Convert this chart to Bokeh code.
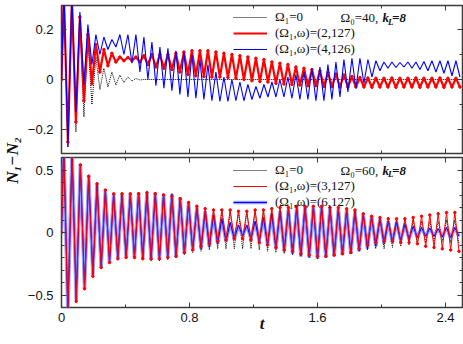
import math
from bokeh.plotting import figure
from bokeh.models import (Range1d, LinearAxis, FixedTicker, Legend, LegendItem, Label,
                          CustomJSTickFormatter)
from bokeh.layouts import row, column
from bokeh.embed import file_html
from bokeh.resources import INLINE

# ---------------- data (extremes) ----------------
# top panel: Omega0 = 40
t_top = [0.0, 0.015, 0.04, 0.065, 0.09, 0.115, 0.14, 0.165, 0.19, 0.215, 0.24,
         0.265, 0.29, 0.315, 0.34, 0.365, 0.39, 0.415, 0.44, 0.465, 0.49,
         0.515, 0.54, 0.565, 0.59, 0.615, 0.64, 0.665, 0.69, 0.715, 0.74,
         0.765, 0.79, 0.815, 0.84, 0.865, 0.89, 0.915, 0.94, 0.965, 0.99,
         1.015, 1.04, 1.065, 1.09, 1.115, 1.14, 1.165, 1.19, 1.215, 1.24,
         1.265, 1.29, 1.315, 1.34, 1.365, 1.39, 1.415, 1.44, 1.465, 1.49,
         1.515, 1.54, 1.565, 1.59, 1.615, 1.64, 1.665, 1.69, 1.715, 1.74,
         1.765, 1.79, 1.815, 1.84, 1.865, 1.89, 1.915, 1.94, 1.965, 1.99,
         2.015, 2.04, 2.065, 2.09, 2.115, 2.14, 2.165, 2.19, 2.215, 2.24,
         2.265, 2.29, 2.315, 2.34, 2.365, 2.39, 2.415, 2.44, 2.465, 2.49]

t_black_top = [0.0, 0.015, 0.04, 0.065, 0.09, 0.115, 0.14, 0.165, 0.19, 0.215, 0.24,
               0.265, 0.29, 0.315, 0.34, 0.365, 0.39, 0.415, 0.44, 0.465, 0.49,
               0.515, 2.5]
n_black_top = [0.0, 0.36, -0.27, 0.34, -0.21, 0.26, -0.15, 0.17, -0.10, 0.09, -0.04,
               0.045, -0.03, 0.03, -0.022, 0.018, -0.012, 0.01, -0.006, 0.004, -0.002,
               0.0, 0.0]

n_red_top = [0.0, 0.34, -0.25, 0.32, -0.17, 0.25, -0.085, 0.18, -0.017, 0.14, 0.03,
             0.12, 0.055, 0.105, 0.07, 0.09, 0.075, 0.088, 0.075, 0.09, 0.07,
             0.095, 0.06, 0.1, 0.05, 0.1, 0.045, 0.1, 0.04, 0.105, 0.03,
             0.11, 0.02, 0.115, 0.015, 0.115, 0.012, 0.115, 0.01, 0.11, 0.01,
             0.105, 0.008, 0.1, 0.005, 0.095, 0.0, 0.09, -0.005, 0.085, -0.008,
             0.08, -0.01, 0.07, -0.015, 0.065, -0.018, 0.06, -0.02, 0.05, -0.022,
             0.045, -0.025, 0.04, -0.025, 0.035, -0.028, 0.028, -0.028, 0.022, -0.03,
             0.018, -0.03, 0.012, -0.03, 0.008, -0.03, 0.006, -0.031, 0.005, -0.03,
             0.005, -0.03, 0.006, -0.031, 0.005, -0.03, 0.005, -0.03, 0.006, -0.031,
             0.005, -0.03, 0.005, -0.03, 0.006, -0.031, 0.005, -0.03, 0.005, -0.03]

n_blue_top = [0.0, 0.36, -0.27, 0.34, -0.13, 0.27, -0.02, 0.22, 0.06, 0.18, 0.10,
              0.17, 0.12, 0.16, 0.13, 0.18, 0.10, 0.18, 0.065, 0.18, 0.03,
              0.17, 0.0, 0.15, -0.025, 0.13, -0.035, 0.125, -0.045, 0.115, -0.06,
              0.11, -0.07, 0.10, -0.075, 0.08, -0.08, 0.06, -0.085, 0.03, -0.088,
              0.01, -0.088, 0.0, -0.085, -0.01, -0.085, -0.02, -0.08, -0.028, -0.075,
              -0.02, -0.07, -0.01, -0.07, 0.0, -0.07, 0.01, -0.075, 0.02, -0.08,
              0.03, -0.08, 0.045, -0.085, 0.05, -0.085, 0.06, -0.08, 0.07, -0.07,
              0.08, -0.05, 0.085, -0.035, 0.085, -0.015, 0.08, 0.01, 0.075, 0.035,
              0.07, 0.045, 0.07, 0.048, 0.068, 0.05, 0.07, 0.045, 0.07, 0.04,
              0.072, 0.035, 0.075, 0.03, 0.075, 0.025, 0.075, 0.015, 0.075, 0.01]

# bottom panel: Omega0 = 60
t_bot = [0.0, 0.014, 0.04, 0.066, 0.092, 0.118, 0.144, 0.17, 0.196, 0.222, 0.248,
         0.274, 0.3, 0.326, 0.352, 0.378, 0.404, 0.43, 0.456, 0.482, 0.508,
         0.534, 0.56, 0.586, 0.612, 0.638, 0.664, 0.69, 0.716, 0.742, 0.768,
         0.794, 0.82, 0.846, 0.872, 0.898, 0.924, 0.95, 0.976, 1.002, 1.028,
         1.054, 1.08, 1.106, 1.132, 1.158, 1.184, 1.21, 1.236, 1.262, 1.288,
         1.314, 1.34, 1.366, 1.392, 1.418, 1.444, 1.47, 1.496, 1.522, 1.548,
         1.574, 1.6, 1.626, 1.652, 1.678, 1.704, 1.73, 1.756, 1.782, 1.808,
         1.834, 1.86, 1.886, 1.912, 1.938, 1.964, 1.99, 2.016, 2.042, 2.068,
         2.094, 2.12, 2.146, 2.172, 2.198, 2.224, 2.25, 2.276, 2.302, 2.328,
         2.354, 2.38, 2.406, 2.432, 2.458, 2.484]

n_black_bot = [0.0, 0.7, -0.66, 0.65, -0.56, 0.55, -0.46, 0.46, -0.36, 0.39, -0.29,
               0.34, -0.25, 0.31, -0.22, 0.31, -0.21, 0.31, -0.21, 0.32, -0.22,
               0.32, -0.23, 0.32, -0.23, 0.31, -0.22, 0.3, -0.2, 0.28, -0.18,
               0.25, -0.16, 0.22, -0.15, 0.2, -0.14, 0.19, -0.13, 0.18, -0.13,
               0.17, -0.13, 0.17, -0.13, 0.17, -0.13, 0.18, -0.14, 0.19, -0.15,
               0.2, -0.16, 0.2, -0.17, 0.21, -0.18, 0.21, -0.18, 0.21, -0.19,
               0.21, -0.19, 0.2, -0.19, 0.2, -0.18, 0.19, -0.17, 0.18, -0.16,
               0.16, -0.15, 0.14, -0.14, 0.13, -0.13, 0.12, -0.13, 0.12, -0.12,
               0.11, -0.11, 0.1, -0.1, 0.1, -0.09, 0.09, -0.08, 0.09, -0.07,
               0.09, -0.07, 0.1, -0.08, 0.1, -0.09]

n_red_bot = [0.0, 0.68, -0.63, 0.64, -0.55, 0.54, -0.45, 0.45, -0.35, 0.39, -0.28,
             0.34, -0.24, 0.31, -0.21, 0.31, -0.2, 0.31, -0.2, 0.31, -0.21,
             0.32, -0.21, 0.31, -0.21, 0.3, -0.2, 0.29, -0.19, 0.27, -0.16,
             0.24, -0.14, 0.21, -0.11, 0.19, -0.09, 0.18, -0.07, 0.18, -0.06,
             0.18, -0.05, 0.17, -0.05, 0.17, -0.06, 0.18, -0.08, 0.18, -0.1,
             0.19, -0.12, 0.2, -0.14, 0.2, -0.15, 0.21, -0.17, 0.21, -0.18,
             0.21, -0.19, 0.21, -0.19, 0.2, -0.18, 0.2, -0.17, 0.19, -0.16,
             0.18, -0.13, 0.15, -0.1, 0.13, -0.08, 0.12, -0.07, 0.11, -0.07,
             0.11, -0.08, 0.11, -0.08, 0.12, -0.09, 0.13, -0.11, 0.14, -0.12,
             0.15, -0.13, 0.16, -0.14, 0.16, -0.15]

n_blue_bot = [0.0, 0.7, -0.65, 0.65, -0.54, 0.55, -0.45, 0.46, -0.34, 0.39, -0.28,
              0.34, -0.24, 0.31, -0.21, 0.31, -0.2, 0.31, -0.2, 0.32, -0.21,
              0.32, -0.22, 0.32, -0.22, 0.31, -0.2, 0.31, -0.2, 0.28, -0.17,
              0.24, -0.145, 0.2, -0.13, 0.17, -0.115, 0.14, -0.09, 0.11, -0.07,
              0.08, -0.05, 0.06, -0.03, 0.06, -0.05, 0.09, -0.07, 0.12, -0.1,
              0.15, -0.13, 0.17, -0.15, 0.19, -0.17, 0.2, -0.19, 0.21, -0.2,
              0.21, -0.21, 0.21, -0.2, 0.2, -0.19, 0.19, -0.18, 0.18, -0.17,
              0.17, -0.15, 0.15, -0.13, 0.13, -0.11, 0.11, -0.09, 0.09, -0.08,
              0.08, -0.065, 0.065, -0.05, 0.05, -0.04, 0.04, -0.03, 0.035, -0.03,
              0.03, -0.035, 0.04, -0.04, 0.04, -0.03]

x_ticks = [0, 0.8, 1.6, 2.4]
x_minor = [0.4, 1.2, 2.0]
x_tick_labels = {0: "0", 0.8: "0.8", 1.6: "1.6", 2.4: "2.4"}
top_ticks = [-0.2, 0, 0.2]
top_minor = [-0.3, -0.1, 0.1, 0.3]
top_tick_labels = {-0.2: "\u22120.2", 0: "0", 0.2: "0.2"}
bot_ticks = [-0.5, 0, 0.5]
bot_minor = [-0.6, -0.4, -0.3, -0.2, -0.1, 0.1, 0.2, 0.3, 0.4, 0.6]
bot_tick_labels = {-0.5: "\u22120.5", 0: "0", 0.5: "0.5"}

top_labels = ["\u03a9\u2081=0", "(\u03a9\u2081,\u03c9)=(2,127)", "(\u03a9\u2081,\u03c9)=(4,126)"]
bot_labels = ["\u03a9\u2081=0", "(\u03a9\u2081,\u03c9)=(3,127)", "(\u03a9\u2081,\u03c9)=(6,127)"]

# ---------------- styling ----------------
SERIF = "Liberation Serif"
SANS = "Liberation Sans"
FRAME = "#3a3a3a"
RED = "#ff0000"
BLUE = "#0000ff"
LBLUE = "#8a8aff"

x_range = Range1d(0, 2.506)


def style_axis(ax, labels, standoff):
    ax.axis_line_color = None
    ax.major_tick_in = 5
    ax.major_tick_out = 0
    ax.minor_tick_in = 3
    ax.minor_tick_out = 0
    ax.major_tick_line_color = FRAME
    ax.minor_tick_line_color = FRAME
    if labels is None:
        ax.formatter = CustomJSTickFormatter(code="return ''")
        ax.major_label_text_font_size = "1px"
        ax.major_label_standoff = 0
    else:
        ax.major_label_overrides = labels
        ax.major_label_text_font = SANS
        ax.major_label_text_font_size = "13px"
        ax.major_label_text_color = "#111111"
        ax.major_label_standoff = standoff


def make_panel(height, ylo, yhi, top, bottom, yticks, yminor, ylabels, xlabels):
    p = figure(width=441, height=height, x_range=x_range, y_range=Range1d(ylo, yhi),
               output_backend="svg", toolbar_location=None,
               x_axis_location=None, y_axis_location=None,
               min_border_left=39, min_border_right=1,
               min_border_top=top, min_border_bottom=bottom)
    p.grid.visible = False
    p.outline_line_color = FRAME
    p.outline_line_width = 1.5
    p.background_fill_color = "white"
    p.border_fill_color = "white"
    for loc in ("left", "right"):
        ax = LinearAxis(ticker=FixedTicker(ticks=yticks, minor_ticks=yminor))
        style_axis(ax, ylabels if loc == "left" else None, 8)
        p.add_layout(ax, loc)
    for loc in ("below", "above"):
        ax = LinearAxis(ticker=FixedTicker(ticks=x_ticks, minor_ticks=x_minor))
        style_axis(ax, xlabels if loc == "below" else None, 5)
        if loc == "below" and xlabels is not None:
            ax.axis_label = "t"
            ax.axis_label_text_font = SERIF
            ax.axis_label_text_font_size = "17px"
            ax.axis_label_text_font_style = "bold italic"
            ax.axis_label_text_color = "#111111"
            ax.axis_label_standoff = -11
        p.add_layout(ax, loc)
    return p


def legend(items, loc):
    lg = Legend(items=items, location=loc, orientation="vertical",
                border_line_color=None, background_fill_alpha=0,
                padding=0, margin=0, spacing=0, label_height=16, glyph_height=16,
                glyph_width=34, label_standoff=8,
                label_text_font=SERIF, label_text_font_size="13px",
                label_text_color="#111111")
    return lg


def param_text(p, t0, yv, ysub, omega_txt):
    p.add_layout(Label(x=t0, y=yv, text=omega_txt, text_font=SERIF, text_font_size="13px",
                       text_baseline="middle", text_color="#111111"))
    p.add_layout(Label(x=t0 + 0.262, y=yv, text="k", text_font=SERIF, text_font_size="13px",
                       text_font_style="bold italic", text_baseline="middle", text_color="#111111"))
    p.add_layout(Label(x=t0 + 0.297, y=ysub, text="L", text_font=SERIF, text_font_size="9px",
                       text_font_style="bold italic", text_baseline="middle", text_color="#111111"))
    p.add_layout(Label(x=t0 + 0.322, y=yv, text="=8", text_font=SERIF, text_font_size="13px",
                       text_font_style="bold italic", text_baseline="middle", text_color="#111111"))


# ---------------- top panel ----------------
p1 = make_panel(155, -0.296, 0.296, 5, 2, top_ticks, top_minor, top_tick_labels, None)
b1 = p1.line(t_black_top, n_black_top, color="black", line_width=1, line_dash="1 1")
r1 = p1.line(t_top, n_red_top, color=RED, line_width=2.2)
r1m = p1.scatter(t_top, n_red_top, color=RED, size=2.5, marker="circle")
u1 = p1.line(t_top, n_blue_top, color=BLUE, line_width=1.1)
p1.add_layout(legend([LegendItem(label=top_labels[0], renderers=[b1]),
                      LegendItem(label=top_labels[1], renderers=[r1]),
                      LegendItem(label=top_labels[2], renderers=[u1])], (172, 96)))
param_text(p1, 1.744, 0.248, 0.232, "\u03a9\u2080=40,")

# ---------------- bottom panel ----------------
p2 = make_panel(188, -0.6, 0.6, 2, 36, bot_ticks, bot_minor, bot_tick_labels, x_tick_labels)
b2 = p2.line(t_bot, n_black_bot, color="black", line_width=1, line_dash="1 1")
h2 = p2.line(t_bot, n_blue_bot, color=LBLUE, line_width=3.5, alpha=0.85)
u2 = p2.line(t_bot, n_blue_bot, color=BLUE, line_width=1)
r2 = p2.line(t_bot, n_red_bot, color=RED, line_width=1)
r2m = p2.scatter(t_bot, n_red_bot, color=RED, size=2.5, marker="circle")
p2.add_layout(legend([LegendItem(label=bot_labels[0], renderers=[b2]),
                      LegendItem(label=bot_labels[1], renderers=[r2]),
                      LegendItem(label=bot_labels[2], renderers=[h2, u2])], (172, 97)))
param_text(p2, 1.744, 0.496, 0.468, "\u03a9\u2080=60,")

# ---------------- y label ----------------
ylab = figure(width=22, height=343, x_range=Range1d(0, 22), y_range=Range1d(0, 343),
              output_backend="svg", toolbar_location=None, min_border=0,
              x_axis_location=None, y_axis_location=None)
ylab.grid.visible = False
ylab.outline_line_color = None
ylab.add_layout(Label(x=12, y=183, text="N\u2081\u2212N\u2082", angle=math.pi / 2,
                      text_font=SERIF, text_font_size="17px", text_font_style="bold italic",
                      text_align="center", text_baseline="middle", text_color="#111111"))

layout = row(ylab, column(p1, p2, spacing=0), spacing=0)

open("out.html", "w").write(file_html(layout, INLINE))
